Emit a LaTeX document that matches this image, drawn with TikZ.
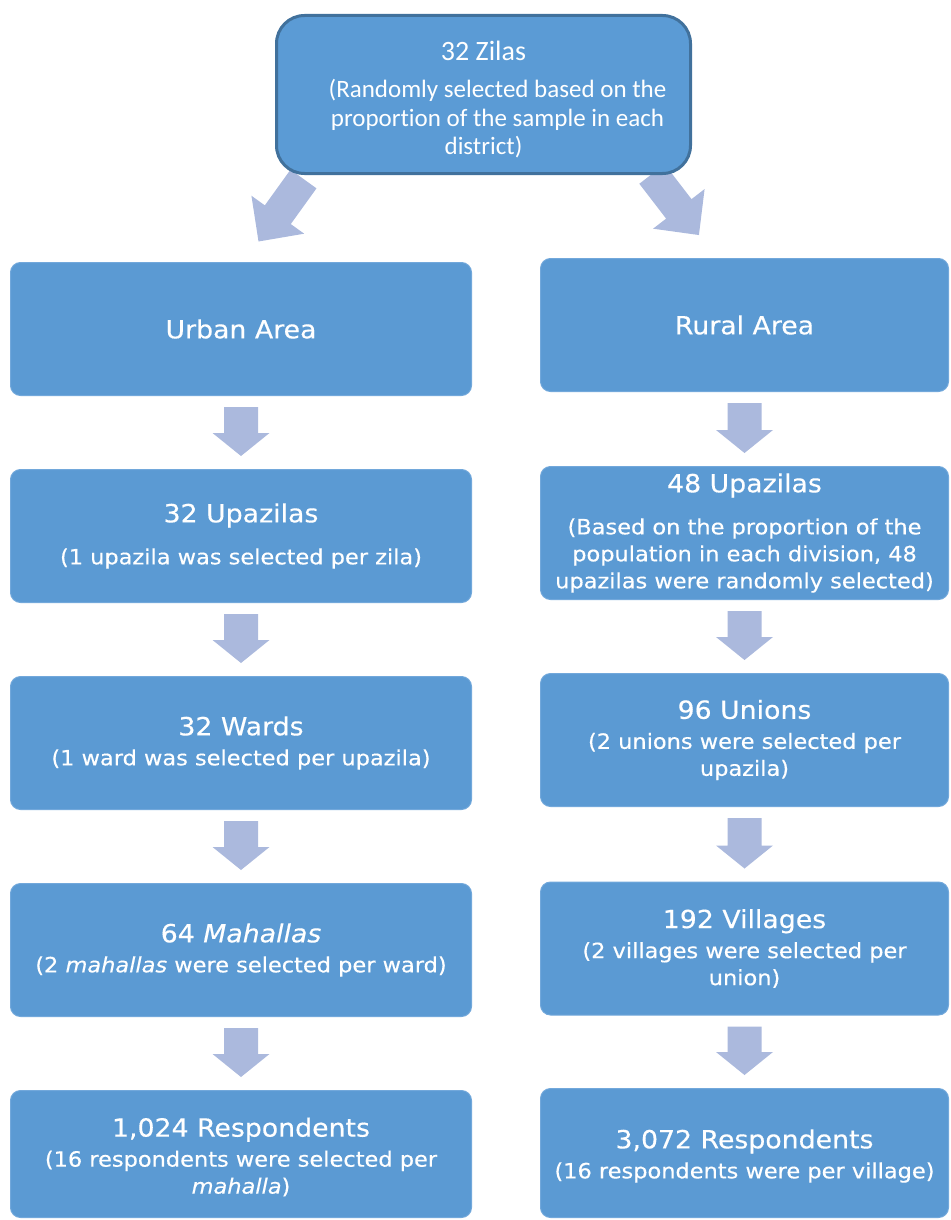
\documentclass[tikz,border=0pt]{standalone}
\usepackage{fontspec}
\setmainfont{DejaVu Sans}
\newfontfamily\boxfont[FakeStretch=1.07,FakeBold=0.4]{DejaVu Sans}
\newfontfamily\topfont[Ligatures=NoCommon]{Carlito}
\usetikzlibrary{calc,backgrounds}
\definecolor{boxfill}{HTML}{5B9AD3}
\definecolor{topfill}{HTML}{5B9BD5}
\definecolor{topline}{HTML}{41719C}
\definecolor{boxline}{HTML}{72A8DB}
\definecolor{arrowc}{HTML}{ABB9DD}
\newcommand\boxtxt{\boxfont\fontsize{21}{27}\selectfont\lineskiplimit-30pt\relax}
\newcommand\toptxt{\topfont\fontsize{25}{28.5}\selectfont\lineskiplimit-30pt\relax}
\tikzset{
  flowbox/.style={rectangle, rounded corners=10pt, fill=boxfill, draw=boxline, line width=1pt,
    text=white, align=center, inner sep=0pt, font=\boxtxt},
  leftbox/.style={flowbox, minimum width=461pt, minimum height=133pt},
  rightbox/.style={flowbox, minimum width=408pt, minimum height=133pt},
  topbox/.style={rectangle, rounded corners=28pt, fill=topfill, draw=topline, line width=3pt,
    text=white, align=center, inner sep=0pt, minimum width=414pt, minimum height=158pt,
    font=\toptxt},
  flowarrow/.style={fill=arrowc}
}
\newcommand\ttl[1]{{\fontsize{25}{27}\selectfont #1}}
\newcommand\lowttl[1]{{\fontsize{25}{27}\selectfont\rule{0pt}{25pt}#1}}
\newcommand\zttl[1]{{\fontsize{28}{28.5}\selectfont\rule{0pt}{29pt}#1}}
\newcommand\varrow[2]{\fill[flowarrow] ($(#1.south)+(-17,11)$) -- ($(#1.south)+(17,11)$)
  -- ($(#2.north)+(17,-36)$) -- ($(#2.north)+(28.5,-36)$) -- ($(#2.north)+(0,-13)$)
  -- ($(#2.north)+(-28.5,-36)$) -- ($(#2.north)+(-17,-36)$) -- cycle;}
\begin{document}
\begin{tikzpicture}[x=1pt,y=-1pt]
\useasboundingbox (0,0) rectangle (950,1220);

\node[topbox] (top) at (483.5,94.5) {\zttl{32 Zilas}\\[9pt]\hspace*{28pt}(Randomly selected based on the\\\hspace*{28pt}proportion of the sample in each\\district)};

% left column
\node[leftbox] (urban) at (241,329) {\ttl{Urban Area}};
\node[leftbox] (lup) at (241,536) {\ttl{32 Upazilas}\\[15pt](1 upazila was selected per zila)};
\node[leftbox] (lward) at (241,743) {\ttl{32 Wards}\\[3pt](1 ward was selected per upazila)};
\node[leftbox] (lmah) at (241,950) {\ttl{64 \textit{Mahallas}}\\[3pt](2 \textit{mahallas} were selected per ward)};
\node[leftbox, minimum height=127pt] (lresp) at (241,1154) {\lowttl{1,024 Respondents}\\[3pt](16 respondents were selected per\\\textit{mahalla})};

% right column
\node[rightbox] (rural) at (744.5,325) {\ttl{Rural Area}};
\node[rightbox] (rup) at (744.5,533) {\ttl{48 Upazilas}\\[15pt](Based on the proportion of the\\population in each division, 48\\upazilas were randomly selected)};
\node[rightbox] (runi) at (744.5,740) {\ttl{96 Unions}\\[3pt](2 unions were selected per\\upazila)};
\node[rightbox] (rvil) at (744.5,948.5) {\ttl{192 Villages}\\[3pt](2 villages were selected per\\union)};
\node[rightbox, minimum height=129pt] (rresp) at (744.5,1153) {\lowttl{3,072 Respondents}\\[3pt](16 respondents were per village)};

% diagonal arrows from the top box
\begin{scope}[on background layer]
\fill[flowarrow, shift={($(top.south west)+(28.5,4)$)}, rotate=234.25]
  (0pt,16pt) -- (44pt,16pt) -- (44pt,32.5pt) -- (77pt,0pt) -- (44pt,-32.5pt) -- (44pt,-16pt) -- (0pt,-16pt) -- cycle;
\fill[flowarrow, shift={($(top.south east)+(-40,-1)$)}, rotate=-52.45]
  (0pt,16pt) -- (44pt,16pt) -- (44pt,32.5pt) -- (77pt,0pt) -- (44pt,-32.5pt) -- (44pt,-16pt) -- (0pt,-16pt) -- cycle;
\end{scope}

% vertical arrows
\varrow{urban}{lup}
\varrow{lup}{lward}
\varrow{lward}{lmah}
\varrow{lmah}{lresp}
\varrow{rural}{rup}
\varrow{rup}{runi}
\varrow{runi}{rvil}
\varrow{rvil}{rresp}
\end{tikzpicture}
\end{document}
